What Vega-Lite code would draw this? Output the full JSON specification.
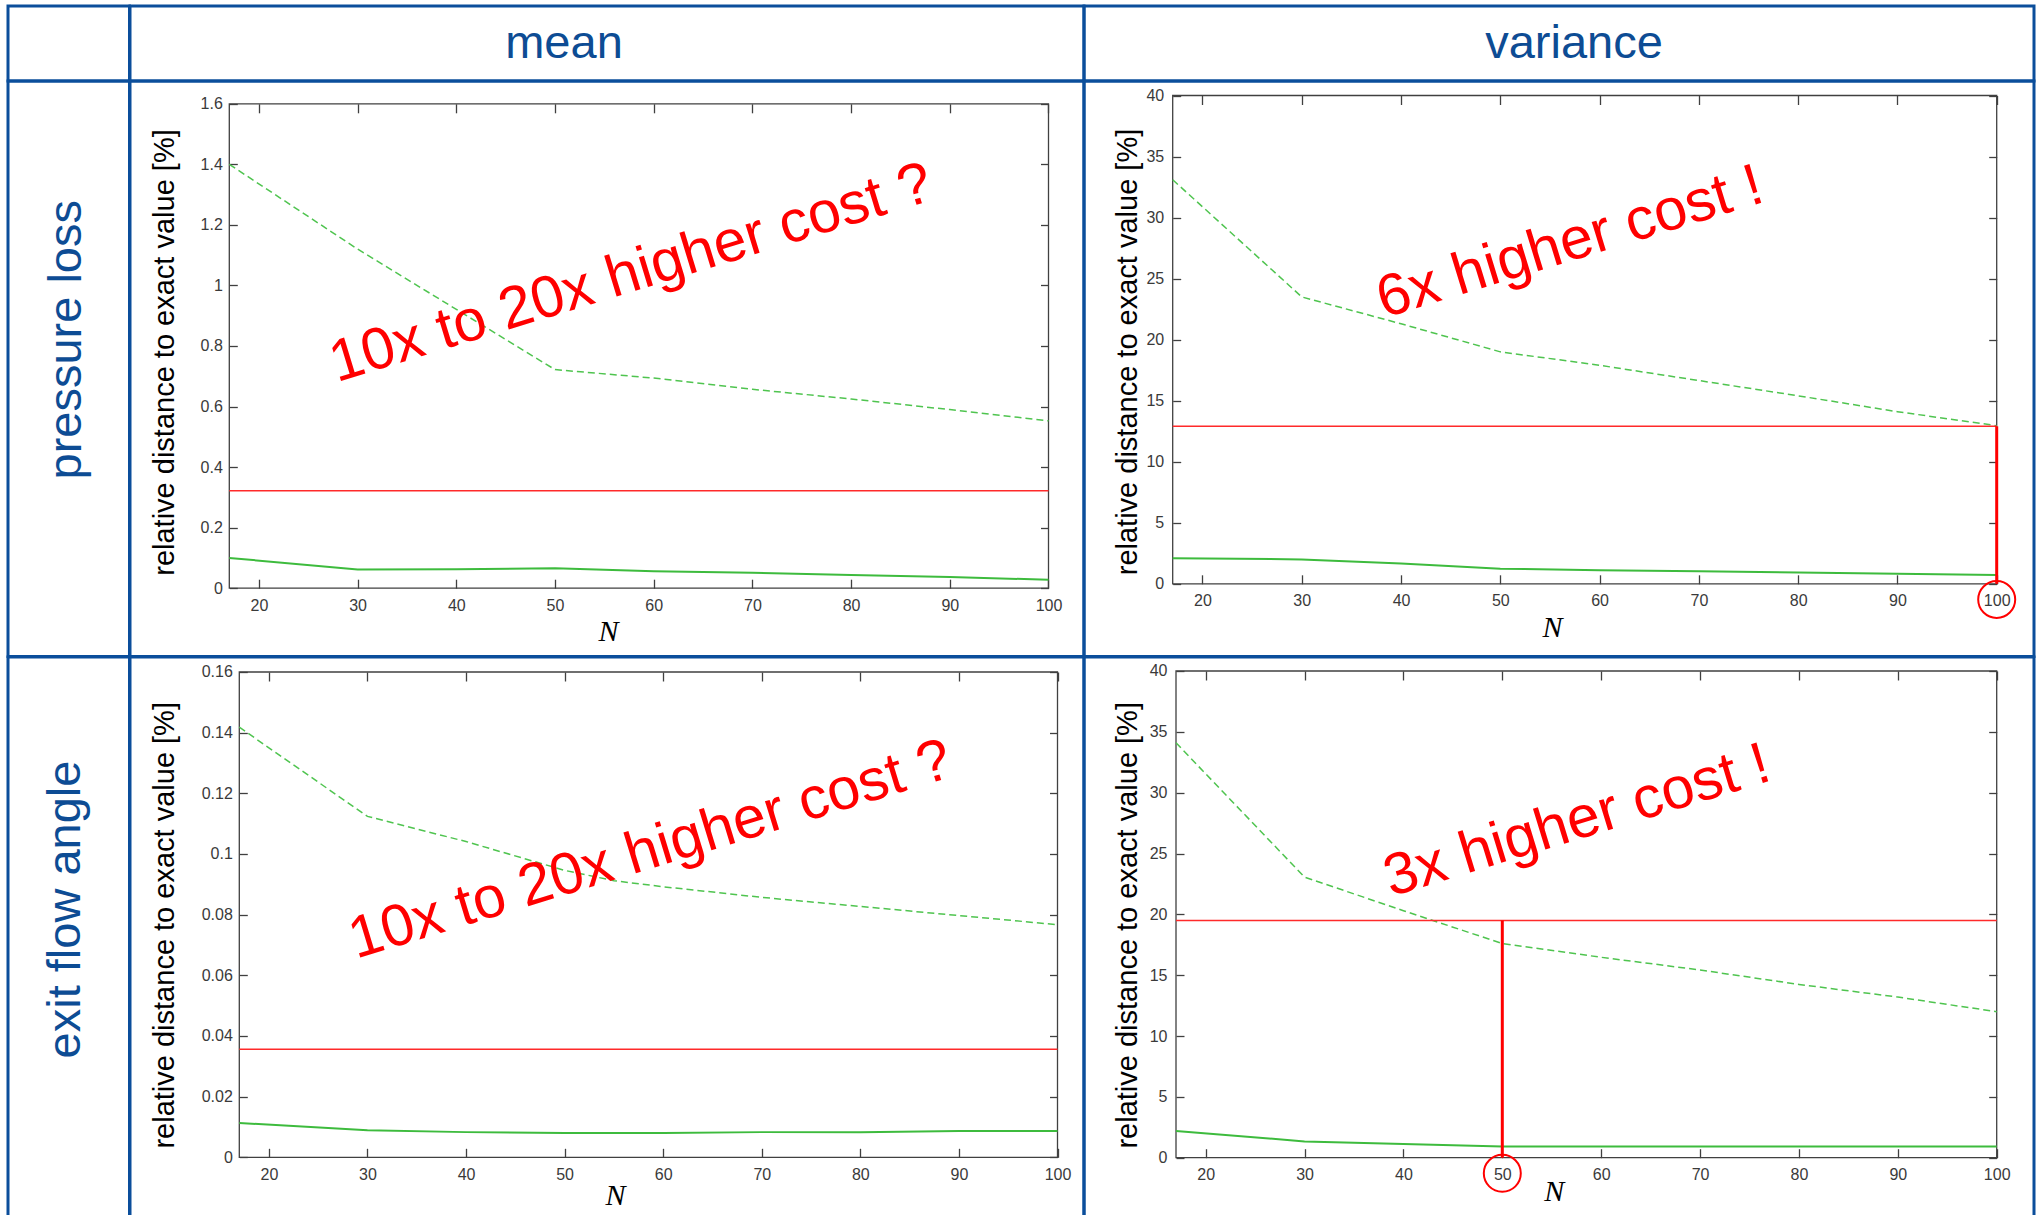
{
  "$schema": "https://vega.github.io/schema/vega-lite/v6.json",
  "background": "white",
  "padding": {"left": 6, "top": 4, "right": 0, "bottom": -15},
  "config": {
    "font": "Liberation Sans",
    "view": {"stroke": "#0b4e9b", "strokeWidth": 3},
    "axis": {
      "domain": false,
      "grid": false,
      "labelFont": "Liberation Sans",
      "labelFontSize": 16,
      "labelColor": "#3a3a3a",
      "labelFlush": false,
      "labelOverlap": false,
      "labelBound": false,
      "tickColor": "#404040",
      "tickWidth": 1.3,
      "titleFont": "Liberation Sans",
      "titleFontWeight": "normal",
      "titleColor": "#000000"
    }
  },
  "datasets": {
    "curves": [
      {"quantity": "pressure loss", "statistic": "mean", "curve": "upper", "N": 17, "value": 1.40},
      {"quantity": "pressure loss", "statistic": "mean", "curve": "upper", "N": 30, "value": 1.12},
      {"quantity": "pressure loss", "statistic": "mean", "curve": "upper", "N": 50, "value": 0.722},
      {"quantity": "pressure loss", "statistic": "mean", "curve": "upper", "N": 60, "value": 0.694},
      {"quantity": "pressure loss", "statistic": "mean", "curve": "upper", "N": 70, "value": 0.657},
      {"quantity": "pressure loss", "statistic": "mean", "curve": "upper", "N": 80, "value": 0.625},
      {"quantity": "pressure loss", "statistic": "mean", "curve": "upper", "N": 90, "value": 0.590},
      {"quantity": "pressure loss", "statistic": "mean", "curve": "upper", "N": 100, "value": 0.553},
      {"quantity": "pressure loss", "statistic": "mean", "curve": "lower", "N": 17, "value": 0.100},
      {"quantity": "pressure loss", "statistic": "mean", "curve": "lower", "N": 30, "value": 0.062},
      {"quantity": "pressure loss", "statistic": "mean", "curve": "lower", "N": 40, "value": 0.063},
      {"quantity": "pressure loss", "statistic": "mean", "curve": "lower", "N": 50, "value": 0.066},
      {"quantity": "pressure loss", "statistic": "mean", "curve": "lower", "N": 60, "value": 0.056},
      {"quantity": "pressure loss", "statistic": "mean", "curve": "lower", "N": 70, "value": 0.051},
      {"quantity": "pressure loss", "statistic": "mean", "curve": "lower", "N": 80, "value": 0.044},
      {"quantity": "pressure loss", "statistic": "mean", "curve": "lower", "N": 90, "value": 0.037},
      {"quantity": "pressure loss", "statistic": "mean", "curve": "lower", "N": 100, "value": 0.028},
      {"quantity": "pressure loss", "statistic": "variance", "curve": "upper", "N": 17, "value": 33.1},
      {"quantity": "pressure loss", "statistic": "variance", "curve": "upper", "N": 30, "value": 23.5},
      {"quantity": "pressure loss", "statistic": "variance", "curve": "upper", "N": 40, "value": 21.3},
      {"quantity": "pressure loss", "statistic": "variance", "curve": "upper", "N": 50, "value": 19.0},
      {"quantity": "pressure loss", "statistic": "variance", "curve": "upper", "N": 60, "value": 17.9},
      {"quantity": "pressure loss", "statistic": "variance", "curve": "upper", "N": 70, "value": 16.65},
      {"quantity": "pressure loss", "statistic": "variance", "curve": "upper", "N": 80, "value": 15.4},
      {"quantity": "pressure loss", "statistic": "variance", "curve": "upper", "N": 90, "value": 14.1},
      {"quantity": "pressure loss", "statistic": "variance", "curve": "upper", "N": 100, "value": 12.95},
      {"quantity": "pressure loss", "statistic": "variance", "curve": "lower", "N": 17, "value": 2.1},
      {"quantity": "pressure loss", "statistic": "variance", "curve": "lower", "N": 30, "value": 2.0},
      {"quantity": "pressure loss", "statistic": "variance", "curve": "lower", "N": 40, "value": 1.66},
      {"quantity": "pressure loss", "statistic": "variance", "curve": "lower", "N": 50, "value": 1.24},
      {"quantity": "pressure loss", "statistic": "variance", "curve": "lower", "N": 60, "value": 1.1},
      {"quantity": "pressure loss", "statistic": "variance", "curve": "lower", "N": 70, "value": 1.03},
      {"quantity": "pressure loss", "statistic": "variance", "curve": "lower", "N": 80, "value": 0.93},
      {"quantity": "pressure loss", "statistic": "variance", "curve": "lower", "N": 90, "value": 0.83},
      {"quantity": "pressure loss", "statistic": "variance", "curve": "lower", "N": 100, "value": 0.72},
      {"quantity": "exit flow angle", "statistic": "mean", "curve": "upper", "N": 17, "value": 0.1418},
      {"quantity": "exit flow angle", "statistic": "mean", "curve": "upper", "N": 30, "value": 0.1124},
      {"quantity": "exit flow angle", "statistic": "mean", "curve": "upper", "N": 40, "value": 0.1041},
      {"quantity": "exit flow angle", "statistic": "mean", "curve": "upper", "N": 50, "value": 0.0946},
      {"quantity": "exit flow angle", "statistic": "mean", "curve": "upper", "N": 55, "value": 0.0912},
      {"quantity": "exit flow angle", "statistic": "mean", "curve": "upper", "N": 60, "value": 0.0892},
      {"quantity": "exit flow angle", "statistic": "mean", "curve": "upper", "N": 70, "value": 0.0857},
      {"quantity": "exit flow angle", "statistic": "mean", "curve": "upper", "N": 80, "value": 0.0827},
      {"quantity": "exit flow angle", "statistic": "mean", "curve": "upper", "N": 90, "value": 0.0797},
      {"quantity": "exit flow angle", "statistic": "mean", "curve": "upper", "N": 100, "value": 0.0767},
      {"quantity": "exit flow angle", "statistic": "mean", "curve": "lower", "N": 17, "value": 0.0113},
      {"quantity": "exit flow angle", "statistic": "mean", "curve": "lower", "N": 30, "value": 0.0089},
      {"quantity": "exit flow angle", "statistic": "mean", "curve": "lower", "N": 40, "value": 0.0083},
      {"quantity": "exit flow angle", "statistic": "mean", "curve": "lower", "N": 50, "value": 0.0080},
      {"quantity": "exit flow angle", "statistic": "mean", "curve": "lower", "N": 60, "value": 0.0080},
      {"quantity": "exit flow angle", "statistic": "mean", "curve": "lower", "N": 70, "value": 0.0083},
      {"quantity": "exit flow angle", "statistic": "mean", "curve": "lower", "N": 80, "value": 0.0083},
      {"quantity": "exit flow angle", "statistic": "mean", "curve": "lower", "N": 90, "value": 0.0087},
      {"quantity": "exit flow angle", "statistic": "mean", "curve": "lower", "N": 100, "value": 0.0087},
      {"quantity": "exit flow angle", "statistic": "variance", "curve": "upper", "N": 17, "value": 34.1},
      {"quantity": "exit flow angle", "statistic": "variance", "curve": "upper", "N": 30, "value": 23.06},
      {"quantity": "exit flow angle", "statistic": "variance", "curve": "upper", "N": 40, "value": 20.3},
      {"quantity": "exit flow angle", "statistic": "variance", "curve": "upper", "N": 50, "value": 17.6},
      {"quantity": "exit flow angle", "statistic": "variance", "curve": "upper", "N": 60, "value": 16.47},
      {"quantity": "exit flow angle", "statistic": "variance", "curve": "upper", "N": 70, "value": 15.43},
      {"quantity": "exit flow angle", "statistic": "variance", "curve": "upper", "N": 80, "value": 14.24},
      {"quantity": "exit flow angle", "statistic": "variance", "curve": "upper", "N": 90, "value": 13.2},
      {"quantity": "exit flow angle", "statistic": "variance", "curve": "upper", "N": 100, "value": 12.0},
      {"quantity": "exit flow angle", "statistic": "variance", "curve": "lower", "N": 17, "value": 2.2},
      {"quantity": "exit flow angle", "statistic": "variance", "curve": "lower", "N": 30, "value": 1.34},
      {"quantity": "exit flow angle", "statistic": "variance", "curve": "lower", "N": 40, "value": 1.13},
      {"quantity": "exit flow angle", "statistic": "variance", "curve": "lower", "N": 50, "value": 0.92},
      {"quantity": "exit flow angle", "statistic": "variance", "curve": "lower", "N": 60, "value": 0.92},
      {"quantity": "exit flow angle", "statistic": "variance", "curve": "lower", "N": 70, "value": 0.92},
      {"quantity": "exit flow angle", "statistic": "variance", "curve": "lower", "N": 80, "value": 0.92},
      {"quantity": "exit flow angle", "statistic": "variance", "curve": "lower", "N": 90, "value": 0.92},
      {"quantity": "exit flow angle", "statistic": "variance", "curve": "lower", "N": 100, "value": 0.92}
    ],
    "limits": [
      {"quantity": "pressure loss", "statistic": "mean", "N_min": 17, "N_max": 100, "v_min": 0, "v_max": 1.6},
      {"quantity": "pressure loss", "statistic": "variance", "N_min": 17, "N_max": 100, "v_min": 0, "v_max": 40},
      {"quantity": "exit flow angle", "statistic": "mean", "N_min": 17, "N_max": 100, "v_min": 0, "v_max": 0.16},
      {"quantity": "exit flow angle", "statistic": "variance", "N_min": 17, "N_max": 100, "v_min": 0, "v_max": 40}
    ],
    "refs": [
      {"quantity": "pressure loss", "statistic": "mean", "ref": 0.322, "N_min": 17, "N_max": 100, "v_min": 0},
      {"quantity": "pressure loss", "statistic": "variance", "ref": 12.9, "N_match": 100, "N_min": 17, "N_max": 100, "v_min": 0},
      {"quantity": "exit flow angle", "statistic": "mean", "ref": 0.0356, "N_min": 17, "N_max": 100, "v_min": 0},
      {"quantity": "exit flow angle", "statistic": "variance", "ref": 19.5, "N_match": 50, "N_min": 17, "N_max": 100, "v_min": 0}
    ],
    "notes": [
      {"quantity": "pressure loss", "statistic": "mean", "note": "10x to 20x higher cost ?"},
      {"quantity": "pressure loss", "statistic": "variance", "note": "6x higher cost !"},
      {"quantity": "exit flow angle", "statistic": "mean", "note": "10x to 20x higher cost ?"},
      {"quantity": "exit flow angle", "statistic": "variance", "note": "3x higher cost !"}
    ],
    "headers": [
      {"label": ""},
      {"label": "mean"},
      {"label": "variance"},
      {"label": "pressure loss"},
      {"label": "exit flow angle"}
    ]
  },
  "columns": 3,
  "spacing": 0,
  "align": "each",
  "bounds": "flush",
  "concat": [
    {
      "width": 121.5, "height": 75,
      "data": {"name": "headers"},
      "transform": [{"filter": "datum.label === ''"}],
      "mark": {"type": "text", "fontSize": 10},
      "encoding": {
        "text": {"field": "label", "type": "nominal"},
        "x": {"datum": 0, "type": "quantitative", "scale": {"domain": [-1, 1]}, "axis": null},
        "y": {"datum": 0, "type": "quantitative", "scale": {"domain": [-1, 1]}, "axis": null}
      }
    },
    {
      "width": 954, "height": 75,
      "data": {"name": "headers"},
      "transform": [{"filter": "datum.label === 'mean'"}],
      "mark": {"type": "text", "fontSize": 47, "color": "#0d4c94", "align": "center", "baseline": "alphabetic", "dx": -43, "dy": 14},
      "encoding": {
        "text": {"field": "label", "type": "nominal"},
        "x": {"datum": 0, "type": "quantitative", "scale": {"domain": [-1, 1]}, "axis": null},
        "y": {"datum": 0, "type": "quantitative", "scale": {"domain": [-1, 1]}, "axis": null}
      }
    },
    {
      "width": 950, "height": 75,
      "data": {"name": "headers"},
      "transform": [{"filter": "datum.label === 'variance'"}],
      "mark": {"type": "text", "fontSize": 47, "color": "#0d4c94", "align": "center", "baseline": "alphabetic", "dx": 15, "dy": 14},
      "encoding": {
        "text": {"field": "label", "type": "nominal"},
        "x": {"datum": 0, "type": "quantitative", "scale": {"domain": [-1, 1]}, "axis": null},
        "y": {"datum": 0, "type": "quantitative", "scale": {"domain": [-1, 1]}, "axis": null}
      }
    },
    {
      "width": 121.5, "height": 575.5,
      "data": {"name": "headers"},
      "transform": [{"filter": "datum.label === 'pressure loss'"}],
      "mark": {"type": "text", "fontSize": 47, "color": "#0d4c94", "align": "center", "baseline": "alphabetic", "angle": 270, "dx": 29, "dy": 12.5},
      "encoding": {
        "text": {"field": "label", "type": "nominal"},
        "x": {"datum": 0, "type": "quantitative", "scale": {"domain": [-1, 1]}, "axis": null},
        "y": {"datum": 0, "type": "quantitative", "scale": {"domain": [-1, 1]}, "axis": null}
      }
    },
    {
      "width": 954, "height": 575.5,
      "resolve": {"axis": {"x": "independent", "y": "independent"}},
      "layer": [
        {
          "data": {"name": "limits"},
          "transform": [{"filter": "datum.quantity === 'pressure loss' && datum.statistic === 'mean'"}],
          "mark": {"type": "rect", "fillOpacity": 0, "stroke": "#404040", "strokeWidth": 1.3},
          "encoding": {
            "x": {"field": "N_min", "type": "quantitative", "axis": {"orient": "top", "offset": -22.8, "values": [20, 30, 40, 50, 60, 70, 80, 90, 100], "labels": false, "tickSize": -9, "title": null}},
            "x2": {"field": "N_max"},
            "y": {"field": "v_min", "type": "quantitative", "axis": {"orient": "right", "offset": -35.5, "values": [0, 0.2, 0.4, 0.6, 0.8, 1, 1.2, 1.4, 1.6], "labels": false, "tickSize": -8, "title": null}},
            "y2": {"field": "v_max"}
          }
        },
        {
          "data": {"name": "curves"},
          "transform": [{"filter": "datum.quantity === 'pressure loss' && datum.statistic === 'mean' && datum.curve === 'upper'"}],
          "mark": {"type": "line", "color": "#4fc44f", "strokeWidth": 1.5, "strokeDash": [7, 4]},
          "encoding": {
            "x": {"field": "N", "type": "quantitative", "scale": {"domain": [6.939, 103.597], "nice": false, "zero": false},
                  "axis": {"orient": "bottom", "offset": -68.3, "values": [20, 30, 40, 50, 60, 70, 80, 90, 100], "ticks": false, "labelPadding": 9,
                           "title": "N", "titleFont": "Liberation Serif", "titleFontStyle": "italic", "titleFontSize": 30, "titleBaseline": "alphabetic", "titleAlign": "center", "titleX": 478, "titleY": 52}},
            "y": {"field": "value", "type": "quantitative", "scale": {"domain": [-0.2256, 1.6753], "nice": false, "zero": false},
                  "axis": {"orient": "left", "offset": -99.3, "values": [0, 0.2, 0.4, 0.6, 0.8, 1, 1.2, 1.4, 1.6], "format": "~g", "ticks": false, "labelPadding": 7,
                           "title": "relative distance to exact value [%]", "titleFontSize": 29, "titleAngle": 270, "titleBaseline": "bottom", "titleAlign": "center", "titleX": -49.4, "titleY": 271}}
          }
        },
        {
          "data": {"name": "curves"},
          "transform": [{"filter": "datum.quantity === 'pressure loss' && datum.statistic === 'mean' && datum.curve === 'lower'"}],
          "mark": {"type": "line", "color": "#3dbb3d", "strokeWidth": 2},
          "encoding": {
            "x": {"field": "N", "type": "quantitative", "axis": {"orient": "bottom", "offset": -68.3, "values": [20, 30, 40, 50, 60, 70, 80, 90, 100], "labels": false, "tickSize": -9, "title": null}},
            "y": {"field": "value", "type": "quantitative", "axis": {"orient": "left", "offset": -99.3, "values": [0, 0.2, 0.4, 0.6, 0.8, 1, 1.2, 1.4, 1.6], "labels": false, "tickSize": -8, "title": null}}
          }
        },
        {
          "data": {"name": "refs"},
          "transform": [{"filter": "datum.quantity === 'pressure loss' && datum.statistic === 'mean'"}],
          "mark": {"type": "rule", "color": "#ff2a2a", "strokeWidth": 1.5},
          "encoding": {
            "y": {"field": "ref", "type": "quantitative", "axis": null},
            "x": {"field": "N_min", "type": "quantitative", "axis": null},
            "x2": {"field": "N_max"}
          }
        },
        {
          "data": {"name": "notes"},
          "transform": [{"filter": "datum.quantity === 'pressure loss' && datum.statistic === 'mean'"}],
          "mark": {"type": "text", "color": "#ff0000", "fontSize": 59, "angle": 343, "align": "center", "baseline": "middle"},
          "encoding": {
            "text": {"field": "note", "type": "nominal"},
            "x": {"datum": 57.7, "type": "quantitative", "axis": null},
            "y": {"datum": 1.04, "type": "quantitative", "axis": null}
          }
        }
      ]
    },
    {
      "width": 950, "height": 575.5,
      "resolve": {"axis": {"x": "independent", "y": "independent"}},
      "layer": [
        {
          "data": {"name": "limits"},
          "transform": [{"filter": "datum.quantity === 'pressure loss' && datum.statistic === 'variance'"}],
          "mark": {"type": "rect", "fillOpacity": 0, "stroke": "#404040", "strokeWidth": 1.3},
          "encoding": {
            "x": {"field": "N_min", "type": "quantitative", "axis": {"orient": "top", "offset": -14.5, "values": [20, 30, 40, 50, 60, 70, 80, 90, 100], "labels": false, "tickSize": -9, "title": null}},
            "x2": {"field": "N_max"},
            "y": {"field": "v_min", "type": "quantitative", "axis": {"orient": "right", "offset": -37.3, "values": [0, 5, 10, 15, 20, 25, 30, 35, 40], "labels": false, "tickSize": -8, "title": null}},
            "y2": {"field": "v_max"}
          }
        },
        {
          "data": {"name": "curves"},
          "transform": [{"filter": "datum.quantity === 'pressure loss' && datum.statistic === 'variance' && datum.curve === 'upper'"}],
          "mark": {"type": "line", "color": "#4fc44f", "strokeWidth": 1.5, "strokeDash": [7, 4]},
          "encoding": {
            "x": {"field": "N", "type": "quantitative", "scale": {"domain": [8.0654, 103.757], "nice": false, "zero": false},
                  "axis": {"orient": "bottom", "offset": -72.7, "values": [20, 30, 40, 50, 60, 70, 80, 90, 100], "ticks": false, "labelPadding": 9,
                           "title": "N", "titleFont": "Liberation Serif", "titleFontStyle": "italic", "titleFontSize": 30, "titleBaseline": "alphabetic", "titleAlign": "center", "titleX": 468, "titleY": 52.3}},
            "y": {"field": "value", "type": "quantitative", "scale": {"domain": [-5.9554, 41.1878], "nice": false, "zero": false},
                  "axis": {"orient": "left", "offset": -88.7, "values": [0, 5, 10, 15, 20, 25, 30, 35, 40], "format": "~g", "ticks": false, "labelPadding": 9,
                           "title": "relative distance to exact value [%]", "titleFontSize": 29, "titleAngle": 270, "titleBaseline": "bottom", "titleAlign": "center", "titleX": -30.3, "titleY": 270.5}}
          }
        },
        {
          "data": {"name": "curves"},
          "transform": [{"filter": "datum.quantity === 'pressure loss' && datum.statistic === 'variance' && datum.curve === 'lower'"}],
          "mark": {"type": "line", "color": "#3dbb3d", "strokeWidth": 2},
          "encoding": {
            "x": {"field": "N", "type": "quantitative", "axis": {"orient": "bottom", "offset": -72.7, "values": [20, 30, 40, 50, 60, 70, 80, 90, 100], "labels": false, "tickSize": -9, "title": null}},
            "y": {"field": "value", "type": "quantitative", "axis": {"orient": "left", "offset": -88.7, "values": [0, 5, 10, 15, 20, 25, 30, 35, 40], "labels": false, "tickSize": -8, "title": null}}
          }
        },
        {
          "data": {"name": "refs"},
          "transform": [{"filter": "datum.quantity === 'pressure loss' && datum.statistic === 'variance'"}],
          "mark": {"type": "rule", "color": "#ff2a2a", "strokeWidth": 1.5},
          "encoding": {
            "y": {"field": "ref", "type": "quantitative", "axis": null},
            "x": {"field": "N_min", "type": "quantitative", "axis": null},
            "x2": {"field": "N_max"}
          }
        },
        {
          "data": {"name": "refs"},
          "transform": [{"filter": "datum.quantity === 'pressure loss' && datum.statistic === 'variance'"}],
          "mark": {"type": "rule", "color": "#ff0000", "strokeWidth": 3},
          "encoding": {
            "x": {"field": "N_match", "type": "quantitative", "axis": null},
            "y": {"field": "v_min", "type": "quantitative", "axis": null},
            "y2": {"field": "ref"}
          }
        },
        {
          "data": {"name": "refs"},
          "transform": [{"filter": "datum.quantity === 'pressure loss' && datum.statistic === 'variance'"}],
          "mark": {"type": "point", "shape": "circle", "filled": false, "color": "#ff0000", "strokeWidth": 2, "size": 1369, "opacity": 1, "yOffset": 15.7},
          "encoding": {
            "x": {"field": "N_match", "type": "quantitative", "axis": null},
            "y": {"field": "v_min", "type": "quantitative", "axis": null}
          }
        },
        {
          "data": {"name": "notes"},
          "transform": [{"filter": "datum.quantity === 'pressure loss' && datum.statistic === 'variance'"}],
          "mark": {"type": "text", "color": "#ff0000", "fontSize": 59, "angle": 343, "align": "center", "baseline": "middle"},
          "encoding": {
            "text": {"field": "note", "type": "nominal"},
            "x": {"datum": 57.0, "type": "quantitative", "axis": null},
            "y": {"datum": 27.96, "type": "quantitative", "axis": null}
          }
        }
      ]
    },
    {
      "width": 121.5, "height": 572,
      "data": {"name": "headers"},
      "transform": [{"filter": "datum.label === 'exit flow angle'"}],
      "mark": {"type": "text", "fontSize": 47, "color": "#0d4c94", "align": "center", "baseline": "alphabetic", "angle": 270, "dx": 33.5, "dy": 11},
      "encoding": {
        "text": {"field": "label", "type": "nominal"},
        "x": {"datum": 0, "type": "quantitative", "scale": {"domain": [-1, 1]}, "axis": null},
        "y": {"datum": 0, "type": "quantitative", "scale": {"domain": [-1, 1]}, "axis": null}
      }
    },
    {
      "width": 954, "height": 572,
      "resolve": {"axis": {"x": "independent", "y": "independent"}},
      "layer": [
        {
          "data": {"name": "limits"},
          "transform": [{"filter": "datum.quantity === 'exit flow angle' && datum.statistic === 'mean'"}],
          "mark": {"type": "rect", "fillOpacity": 0, "stroke": "#404040", "strokeWidth": 1.3},
          "encoding": {
            "x": {"field": "N_min", "type": "quantitative", "axis": {"orient": "top", "offset": -15, "values": [20, 30, 40, 50, 60, 70, 80, 90, 100], "labels": false, "tickSize": -9, "title": null}},
            "x2": {"field": "N_max"},
            "y": {"field": "v_min", "type": "quantitative", "axis": {"orient": "right", "offset": -26.5, "values": [0, 0.02, 0.04, 0.06, 0.08, 0.1, 0.12, 0.14, 0.16], "labels": false, "tickSize": -8, "title": null}},
            "y2": {"field": "v_max"}
          }
        },
        {
          "data": {"name": "curves"},
          "transform": [{"filter": "datum.quantity === 'exit flow angle' && datum.statistic === 'mean' && datum.curve === 'upper'"}],
          "mark": {"type": "line", "color": "#4fc44f", "strokeWidth": 1.5, "strokeDash": [7, 4]},
          "encoding": {
            "x": {"field": "N", "type": "quantitative", "scale": {"domain": [5.9123, 102.688], "nice": false, "zero": false},
                  "axis": {"orient": "bottom", "offset": -71.7, "values": [20, 30, 40, 50, 60, 70, 80, 90, 100], "ticks": false, "labelPadding": 9,
                           "title": "N", "titleFont": "Liberation Serif", "titleFontStyle": "italic", "titleFontSize": 30, "titleBaseline": "alphabetic", "titleAlign": "center", "titleX": 485, "titleY": 46.8}},
            "y": {"field": "value", "type": "quantitative", "scale": {"domain": [-0.023639, 0.164945], "nice": false, "zero": false},
                  "axis": {"orient": "left", "offset": -109.3, "values": [0, 0.02, 0.04, 0.06, 0.08, 0.1, 0.12, 0.14, 0.16], "format": "~g", "ticks": false, "labelPadding": 7,
                           "title": "relative distance to exact value [%]", "titleFontSize": 29, "titleAngle": 270, "titleBaseline": "bottom", "titleAlign": "center", "titleX": -59.4, "titleY": 267.8}}
          }
        },
        {
          "data": {"name": "curves"},
          "transform": [{"filter": "datum.quantity === 'exit flow angle' && datum.statistic === 'mean' && datum.curve === 'lower'"}],
          "mark": {"type": "line", "color": "#3dbb3d", "strokeWidth": 2},
          "encoding": {
            "x": {"field": "N", "type": "quantitative", "axis": {"orient": "bottom", "offset": -71.7, "values": [20, 30, 40, 50, 60, 70, 80, 90, 100], "labels": false, "tickSize": -9, "title": null}},
            "y": {"field": "value", "type": "quantitative", "axis": {"orient": "left", "offset": -109.3, "values": [0, 0.02, 0.04, 0.06, 0.08, 0.1, 0.12, 0.14, 0.16], "labels": false, "tickSize": -8, "title": null}}
          }
        },
        {
          "data": {"name": "refs"},
          "transform": [{"filter": "datum.quantity === 'exit flow angle' && datum.statistic === 'mean'"}],
          "mark": {"type": "rule", "color": "#ff2a2a", "strokeWidth": 1.5},
          "encoding": {
            "y": {"field": "ref", "type": "quantitative", "axis": null},
            "x": {"field": "N_min", "type": "quantitative", "axis": null},
            "x2": {"field": "N_max"}
          }
        },
        {
          "data": {"name": "notes"},
          "transform": [{"filter": "datum.quantity === 'exit flow angle' && datum.statistic === 'mean'"}],
          "mark": {"type": "text", "color": "#ff0000", "fontSize": 59, "angle": 343, "align": "center", "baseline": "middle"},
          "encoding": {
            "text": {"field": "note", "type": "nominal"},
            "x": {"datum": 58.7, "type": "quantitative", "axis": null},
            "y": {"datum": 0.1013, "type": "quantitative", "axis": null}
          }
        }
      ]
    },
    {
      "width": 950, "height": 572,
      "resolve": {"axis": {"x": "independent", "y": "independent"}},
      "layer": [
        {
          "data": {"name": "limits"},
          "transform": [{"filter": "datum.quantity === 'exit flow angle' && datum.statistic === 'variance'"}],
          "mark": {"type": "rect", "fillOpacity": 0, "stroke": "#404040", "strokeWidth": 1.3},
          "encoding": {
            "x": {"field": "N_min", "type": "quantitative", "axis": {"orient": "top", "offset": -14, "values": [20, 30, 40, 50, 60, 70, 80, 90, 100], "labels": false, "tickSize": -9, "title": null}},
            "x2": {"field": "N_max"},
            "y": {"field": "v_min", "type": "quantitative", "axis": {"orient": "right", "offset": -37.3, "values": [0, 5, 10, 15, 20, 25, 30, 35, 40], "labels": false, "tickSize": -8, "title": null}},
            "y2": {"field": "v_max"}
          }
        },
        {
          "data": {"name": "curves"},
          "transform": [{"filter": "datum.quantity === 'exit flow angle' && datum.statistic === 'variance' && datum.curve === 'upper'"}],
          "mark": {"type": "line", "color": "#4fc44f", "strokeWidth": 1.5, "strokeDash": [7, 4]},
          "encoding": {
            "x": {"field": "N", "type": "quantitative", "scale": {"domain": [7.6958, 103.772], "nice": false, "zero": false},
                  "axis": {"orient": "bottom", "offset": -71.3, "values": [20, 30, 40, 50, 60, 70, 80, 90, 100], "ticks": false, "labelPadding": 9,
                           "title": "N", "titleFont": "Liberation Serif", "titleFontStyle": "italic", "titleFontSize": 30, "titleBaseline": "alphabetic", "titleAlign": "center", "titleX": 469.7, "titleY": 42.8}},
            "y": {"field": "value", "type": "quantitative", "scale": {"domain": [-5.8599, 41.1506], "nice": false, "zero": false},
                  "axis": {"orient": "left", "offset": -92, "values": [0, 5, 10, 15, 20, 25, 30, 35, 40], "format": "~g", "ticks": false, "labelPadding": 9,
                           "title": "relative distance to exact value [%]", "titleFontSize": 29, "titleAngle": 270, "titleBaseline": "bottom", "titleAlign": "center", "titleX": -33.6, "titleY": 267.8}}
          }
        },
        {
          "data": {"name": "curves"},
          "transform": [{"filter": "datum.quantity === 'exit flow angle' && datum.statistic === 'variance' && datum.curve === 'lower'"}],
          "mark": {"type": "line", "color": "#3dbb3d", "strokeWidth": 2},
          "encoding": {
            "x": {"field": "N", "type": "quantitative", "axis": {"orient": "bottom", "offset": -71.3, "values": [20, 30, 40, 50, 60, 70, 80, 90, 100], "labels": false, "tickSize": -9, "title": null}},
            "y": {"field": "value", "type": "quantitative", "axis": {"orient": "left", "offset": -92, "values": [0, 5, 10, 15, 20, 25, 30, 35, 40], "labels": false, "tickSize": -8, "title": null}}
          }
        },
        {
          "data": {"name": "refs"},
          "transform": [{"filter": "datum.quantity === 'exit flow angle' && datum.statistic === 'variance'"}],
          "mark": {"type": "rule", "color": "#ff2a2a", "strokeWidth": 1.5},
          "encoding": {
            "y": {"field": "ref", "type": "quantitative", "axis": null},
            "x": {"field": "N_min", "type": "quantitative", "axis": null},
            "x2": {"field": "N_max"}
          }
        },
        {
          "data": {"name": "refs"},
          "transform": [{"filter": "datum.quantity === 'exit flow angle' && datum.statistic === 'variance'"}],
          "mark": {"type": "rule", "color": "#ff0000", "strokeWidth": 3},
          "encoding": {
            "x": {"field": "N_match", "type": "quantitative", "axis": null},
            "y": {"field": "v_min", "type": "quantitative", "axis": null},
            "y2": {"field": "ref"}
          }
        },
        {
          "data": {"name": "refs"},
          "transform": [{"filter": "datum.quantity === 'exit flow angle' && datum.statistic === 'variance'"}],
          "mark": {"type": "point", "shape": "circle", "filled": false, "color": "#ff0000", "strokeWidth": 2, "size": 1369, "opacity": 1, "yOffset": 15.6},
          "encoding": {
            "x": {"field": "N_match", "type": "quantitative", "axis": null},
            "y": {"field": "v_min", "type": "quantitative", "axis": null}
          }
        },
        {
          "data": {"name": "notes"},
          "transform": [{"filter": "datum.quantity === 'exit flow angle' && datum.statistic === 'variance'"}],
          "mark": {"type": "text", "color": "#ff0000", "fontSize": 59, "angle": 343, "align": "center", "baseline": "middle"},
          "encoding": {
            "text": {"field": "note", "type": "nominal"},
            "x": {"datum": 57.55, "type": "quantitative", "axis": null},
            "y": {"datum": 27.67, "type": "quantitative", "axis": null}
          }
        }
      ]
    }
  ]
}
